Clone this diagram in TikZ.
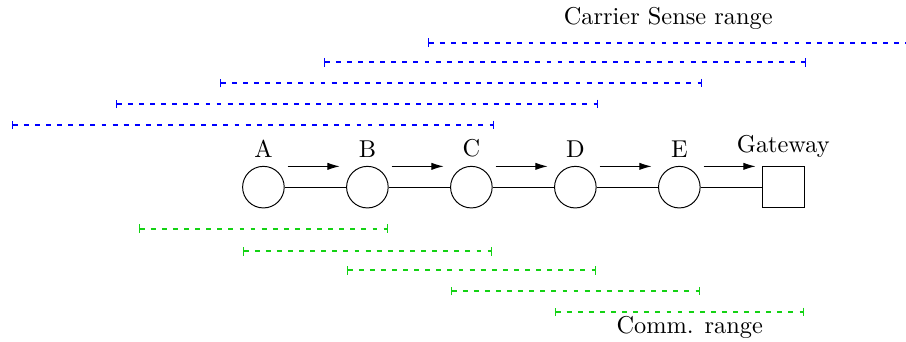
\documentclass[tikz,border=0pt]{standalone}
\usetikzlibrary{calc,arrows.meta}
\definecolor{csblue}{RGB}{0,0,255}
\definecolor{cmgreen}{RGB}{20,210,20}
\begin{document}
\begin{tikzpicture}[
  nd/.style={circle,draw,minimum size=0.6cm,inner sep=0pt},
  gw/.style={rectangle,draw,minimum size=0.6cm,inner sep=0pt},
  csr/.style={draw=csblue,line width=0.75pt,{Bar[width=3.5pt,line width=0.6pt]}-{Bar[width=3.5pt,line width=0.6pt]},dash pattern=on 2pt off 2.55pt},
  cmr/.style={draw=cmgreen,line width=0.75pt,{Bar[width=3.5pt,line width=0.6pt]}-{Bar[width=3.5pt,line width=0.6pt]},dash pattern=on 2pt off 2.55pt},
  flow/.style={-{Latex[length=5pt,width=3pt]}}
]
\useasboundingbox (0,0) rectangle (13.07,-4.92);
\node[nd,label=above:A] (A) at (3.8,-2.70) {};
\node[nd,label=above:B] (B) at (5.3,-2.70) {};
\node[nd,label=above:C] (C) at (6.8,-2.70) {};
\node[nd,label=above:D] (D) at (8.3,-2.70) {};
\node[nd,label=above:E] (E) at (9.8,-2.70) {};
\node[gw,label=above:Gateway] (G) at (11.3,-2.70) {};
\draw (A) -- (B);
\draw (B) -- (C);
\draw (C) -- (D);
\draw (D) -- (E);
\draw (E) -- (G);
\draw[flow] ($(A)+(0.35,0.3)$) -- ($(B)+(-0.4,0.3)$);
\draw[flow] ($(B)+(0.35,0.3)$) -- ($(C)+(-0.4,0.3)$);
\draw[flow] ($(C)+(0.35,0.3)$) -- ($(D)+(-0.4,0.3)$);
\draw[flow] ($(D)+(0.35,0.3)$) -- ($(E)+(-0.4,0.3)$);
\draw[flow] ($(E)+(0.35,0.3)$) -- ($(G)+(-0.4,0.3)$);
% carrier sense ranges
\draw[csr] ($(A)+(-3.63,0.9)$) -- ($(A)+(3.33,0.9)$);
\draw[csr] ($(B)+(-3.63,1.2)$) -- ($(B)+(3.33,1.2)$);
\draw[csr] ($(C)+(-3.63,1.5)$) -- ($(C)+(3.33,1.5)$);
\draw[csr] ($(D)+(-3.63,1.8)$) -- ($(D)+(3.33,1.8)$);
\draw[csr] ($(E)+(-3.63,2.085)$) -- ($(E)+(3.33,2.085)$);
% communication ranges
\draw[cmr] ($(A)+(-1.8,-0.6)$) -- ($(A)+(1.8,-0.6)$);
\draw[cmr] ($(B)+(-1.8,-0.925)$) -- ($(B)+(1.8,-0.925)$);
\draw[cmr] ($(C)+(-1.8,-1.2)$) -- ($(C)+(1.8,-1.2)$);
\draw[cmr] ($(D)+(-1.8,-1.5)$) -- ($(D)+(1.8,-1.5)$);
\draw[cmr] ($(E)+(-1.8,-1.8)$) -- ($(E)+(1.8,-1.8)$);
\node (cs) at (9.64,-0.26) {Carrier Sense range};
\node (cm) at (9.95,-4.72) {Comm. range};
\end{tikzpicture}
\end{document}
